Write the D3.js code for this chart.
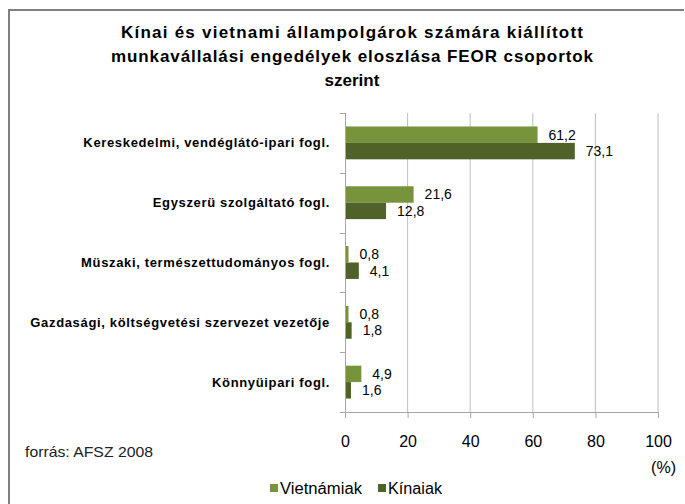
<!DOCTYPE html>
<html>
<head>
<meta charset="utf-8">
<script src="https://cdn.jsdelivr.net/npm/d3@7"></script>
<style>
  html, body { margin: 0; padding: 0; background: #fff; }
  svg { display: block; }
</style>
</head>
<body>
<div id="chart"></div>
<script>
(function() {
  const categories = [
    "Kereskedelmi, vendéglátó-ipari fogl.",
    "Egyszerü szolgáltató fogl.",
    "Müszaki, természettudományos fogl.",
    "Gazdasági, költségvetési szervezet vezetője",
    "Könnyüipari fogl."
  ];
  const seriesNames = ["Vietnámiak", "Kínaiak"];
  const vietnamValues = [61.2, 21.6, 0.8, 0.8, 4.9];
  const chinaValues = [73.1, 12.8, 4.1, 1.8, 1.6];
  const xTicks = [0, 20, 40, 60, 80, 100];
  const titleLines = [
    "Kínai és vietnami állampolgárok számára kiállított",
    "munkavállalási engedélyek eloszlása FEOR csoportok",
    "szerint"
  ];
  const sourceText = "forrás: AFSZ 2008";
  const unitText = "(%)";

  const COLORS = ["#77933c", "#4f6228"];
  const FONT = "'Liberation Sans', Arial, sans-serif";

  const width = 685;
  const height = 504;
  const plot = { left: 345, right: 658, top: 113, bottom: 412 };

  const svg = d3.select("#chart").append("svg")
    .attr("width", width)
    .attr("height", height);

  // frame (only top and left edges visible)
  svg.append("path")
    .attr("d", `M9,${height} L9,10 L684,10`)
    .attr("fill", "none")
    .attr("stroke", "#808080")
    .attr("stroke-width", 2);

  // title
  const titleWidths = [462, 482, null];
  svg.append("g")
    .selectAll("text")
    .data(titleLines)
    .join("text")
    .attr("x", 352)
    .attr("y", (d, i) => 38 + i * 24)
    .attr("text-anchor", "middle")
    .attr("textLength", (d, i) => titleWidths[i])
    .attr("lengthAdjust", "spacing")
    .style("font-family", FONT)
    .style("font-weight", "bold")
    .style("font-size", "17px")
    .attr("fill", "#000")
    .text(d => d);

  const data = categories.map((c, i) => ({
    category: c,
    values: [vietnamValues[i], chinaValues[i]]
  }));

  const x = d3.scaleLinear().domain([0, 100]).range([plot.left, plot.right]);
  const y = d3.scaleBand().domain(categories).range([plot.top, plot.bottom]);
  const yInner = d3.scaleBand()
    .domain([0, 1])
    .range([0, y.bandwidth()])
    .paddingOuter(0.82);

  // gridlines
  svg.append("g")
    .selectAll("line")
    .data(xTicks.filter(t => t > 0))
    .join("line")
    .attr("x1", d => x(d))
    .attr("x2", d => x(d))
    .attr("y1", plot.top)
    .attr("y2", plot.bottom)
    .attr("stroke", "#bfbfbf")
    .attr("stroke-width", 1);

  // x axis
  const xAxis = svg.append("g")
    .attr("transform", `translate(0,${plot.bottom})`)
    .call(d3.axisBottom(x).tickValues(xTicks).tickSize(6).tickPadding(18).tickFormat(d3.format("d")));
  xAxis.select(".domain").attr("stroke", "#a6a6a6").attr("d", `M${plot.left},0.5H${plot.right}`);
  xAxis.selectAll(".tick line").attr("stroke", "#a6a6a6");
  xAxis.selectAll(".tick text")
    .style("font-family", FONT)
    .style("font-size", "16px")
    .attr("fill", "#000");

  // y axis: ticks at band boundaries
  const boundaries = categories.map(c => y(c)).concat([plot.bottom]);
  svg.append("g")
    .selectAll("line")
    .data(boundaries)
    .join("line")
    .attr("x1", plot.left - 5)
    .attr("x2", plot.left)
    .attr("y1", d => Math.round(d) + 0.5)
    .attr("y2", d => Math.round(d) + 0.5)
    .attr("stroke", "#a6a6a6");
  svg.append("line")
    .attr("x1", plot.left + 0.5)
    .attr("x2", plot.left + 0.5)
    .attr("y1", plot.top)
    .attr("y2", plot.bottom + 6)
    .attr("stroke", "#a6a6a6");

  // category labels
  svg.append("g")
    .selectAll("text")
    .data(categories)
    .join("text")
    .attr("x", 330)
    .attr("y", d => y(d) + y.bandwidth() / 2)
    .attr("dy", "0.35em")
    .attr("text-anchor", "end")
    .style("font-family", FONT)
    .style("font-weight", "bold")
    .style("font-size", "13px")
    .style("letter-spacing", "0.65px")
    .attr("fill", "#000")
    .text(d => d);

  // bars
  const groups = svg.append("g")
    .selectAll("g")
    .data(data)
    .join("g")
    .attr("transform", d => `translate(0,${y(d.category)})`);

  groups.selectAll("rect")
    .data(d => d.values)
    .join("rect")
    .attr("x", x(0) + 1)
    .attr("y", (d, i) => yInner(i))
    .attr("width", d => x(d) - x(0))
    .attr("height", yInner.bandwidth())
    .attr("fill", (d, i) => COLORS[i]);

  groups.selectAll("text")
    .data(d => d.values)
    .join("text")
    .attr("x", d => x(d) + 12)
    .attr("y", (d, i) => yInner(i) + yInner.bandwidth() / 2)
    .attr("dy", "0.35em")
    .style("font-family", FONT)
    .style("font-size", "14px")
    .attr("fill", "#000")
    .text(d => d3.format(".1f")(d).replace(".", ","));

  // source and unit
  svg.append("text")
    .attr("x", 25)
    .attr("y", 457)
    .attr("textLength", 128)
    .attr("lengthAdjust", "spacingAndGlyphs")
    .style("font-family", FONT)
    .style("font-size", "15px")
    .attr("fill", "#222")
    .text(sourceText);

  svg.append("text")
    .attr("x", 676)
    .attr("y", 473)
    .attr("text-anchor", "end")
    .style("font-family", FONT)
    .style("font-size", "16px")
    .attr("fill", "#000")
    .text(unitText);

  // legend
  const legendX = [270, 378];
  const legendWidths = [82, 54];
  const legend = svg.append("g")
    .selectAll("g")
    .data(seriesNames)
    .join("g")
    .attr("transform", (d, i) => `translate(${legendX[i]},488)`);
  legend.append("rect")
    .attr("x", 0)
    .attr("y", -4)
    .attr("width", 8)
    .attr("height", 8)
    .attr("fill", (d, i) => COLORS[i]);
  legend.append("text")
    .attr("x", 10)
    .attr("y", 0)
    .attr("dy", "0.35em")
    .attr("textLength", (d, i) => legendWidths[i])
    .attr("lengthAdjust", "spacingAndGlyphs")
    .style("font-family", FONT)
    .style("font-size", "16px")
    .attr("fill", "#000")
    .text(d => d);
})();
</script>
</body>
</html>
